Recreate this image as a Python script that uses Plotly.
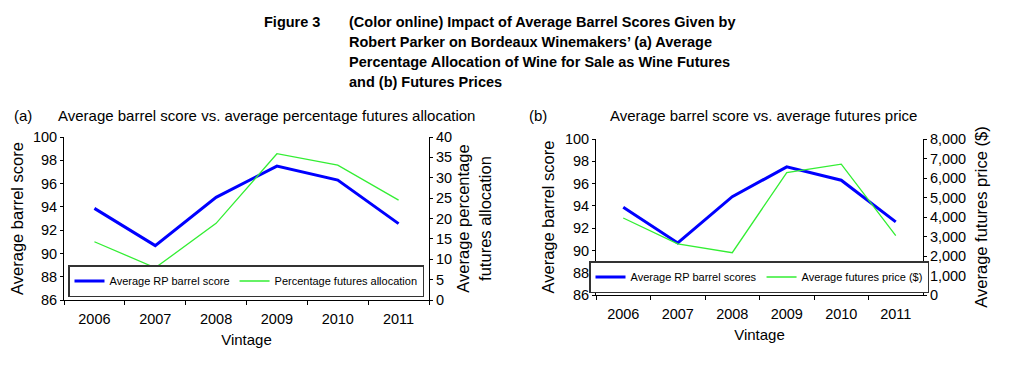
import plotly.graph_objects as go

# ---- data ----
vintages = ["2006", "2007", "2008", "2009", "2010", "2011"]
rp_barrel_score = [93.87, 90.67, 94.82, 97.5, 96.3, 92.56]
futures_allocation_pct = [14.3, 7.9, 18.8, 35.9, 33.1, 24.5]
futures_price = [3950, 2620, 2170, 6280, 6710, 3050]

score_ticks = [86, 88, 90, 92, 94, 96, 98, 100]
alloc_ticks = [0, 5, 10, 15, 20, 25, 30, 35, 40]
price_ticks = [0, 1000, 2000, 3000, 4000, 5000, 6000, 7000, 8000]

# the page body has an 8px default margin, so the figure is drawn 8px in
OFF = 8
W, H = 1021 - OFF, 372 - OFF
FONT = "Liberation Sans, Arial, sans-serif"
NARROW = "Liberation Sans Narrow, Arial Narrow, Liberation Sans, sans-serif"
BLUE = "#0000ff"
GREEN = "#33ee33"

def px_x(x):
    return (x - OFF) / W

def px_y(y):
    return 1 - (y - OFF) / H

fig = go.Figure()

# Panel (a)
fig.add_trace(go.Scatter(x=vintages, y=rp_barrel_score, mode="lines",
                         line=dict(color=BLUE, width=3),
                         name="Average RP barrel score", xaxis="x", yaxis="y",
                         legend="legend"))
fig.add_trace(go.Scatter(x=vintages, y=futures_allocation_pct, mode="lines",
                         line=dict(color=GREEN, width=1.3),
                         name="Percentage futures allocation", xaxis="x", yaxis="y2",
                         legend="legend"))
# Panel (b)
fig.add_trace(go.Scatter(x=vintages, y=rp_barrel_score, mode="lines",
                         line=dict(color=BLUE, width=3),
                         name="Average RP barrel scores", xaxis="x2", yaxis="y3",
                         legend="legend2"))
fig.add_trace(go.Scatter(x=vintages, y=futures_price, mode="lines",
                         line=dict(color=GREEN, width=1.3),
                         name="Average futures price ($)", xaxis="x2", yaxis="y4",
                         legend="legend2"))

tickfont = dict(family=FONT, size=14.5, color="black")
ytitlefont = dict(family=FONT, size=16.5, color="black")
xtitlefont = dict(family=FONT, size=15, color="black")

def xaxis_cfg(domain, anchor):
    return dict(domain=domain, anchor=anchor, type="category",
                categoryorder="array", categoryarray=vintages,
                range=[-0.5, len(vintages) - 0.5], automargin=False,
                tickson="boundaries", ticks="outside", ticklen=4, tickcolor="black",
                showline=True, linecolor="black", linewidth=1,
                showgrid=False, zeroline=False, tickfont=tickfont,
                ticklabelstandoff=6,
                title=dict(text="Vintage", font=xtitlefont, standoff=8))

def yaxis_cfg(domain, anchor, rng, ticks, title, side="left", overlaying=None,
              fmt=None, standoff=8):
    d = dict(domain=domain, anchor=anchor, range=rng, tickvals=ticks,
             automargin=False,
             ticks="outside", ticklen=3, tickcolor="black",
             showline=True, linecolor="black", linewidth=1,
             showgrid=False, zeroline=False, tickfont=tickfont, side=side,
             title=dict(text=title, font=ytitlefont, standoff=standoff))
    if overlaying:
        d["overlaying"] = overlaying
    if fmt:
        d["tickformat"] = fmt
    return d

dom_xa = [px_x(64), px_x(429)]
dom_ya = [px_y(300), px_y(137)]
dom_xb = [px_x(596), px_x(923)]
dom_yb = [px_y(295), px_y(139)]

legend_font = dict(family=FONT, size=11, color="black")

fig.update_layout(
    width=W, height=H, autosize=False,
    margin=dict(l=0, r=0, t=0, b=0, autoexpand=False),
    paper_bgcolor="white", plot_bgcolor="white",
    font=dict(family=FONT, color="black"),
    xaxis=xaxis_cfg(dom_xa, "y"),
    yaxis=yaxis_cfg(dom_ya, "x", [86, 100], score_ticks, "Average barrel score",
                    standoff=8),
    yaxis2=yaxis_cfg(dom_ya, "x", [0, 40], alloc_ticks,
                     "Average percentage<br>futures allocation", side="right",
                     overlaying="y", standoff=6),
    xaxis2=xaxis_cfg(dom_xb, "y3"),
    yaxis3=yaxis_cfg(dom_yb, "x2", [86, 100], score_ticks, "Average barrel score",
                     standoff=6),
    yaxis4=yaxis_cfg(dom_yb, "x2", [0, 8000], price_ticks,
                     "Average futures price ($)", side="right", overlaying="y3",
                     fmt=",", standoff=10),
    legend=dict(orientation="h", x=px_x(246), y=px_y(297), xanchor="center",
                yanchor="bottom", bgcolor="white", bordercolor="#333333",
                borderwidth=1.5, font=legend_font, itemwidth=30,
                tracegroupgap=0),
    legend2=dict(orientation="h", x=px_x(759), y=px_y(293), xanchor="center",
                 yanchor="bottom", bgcolor="white", bordercolor="#333333",
                 borderwidth=1.5, font=legend_font, itemwidth=30,
                 tracegroupgap=0),
    showlegend=True,
)

# Caption and panel titles
cap_font = dict(family=NARROW, size=14.5, color="black", weight="bold")
annotations = [
    dict(text="Figure 3", x=px_x(262), y=px_y(21.7)),
    dict(text="(Color online) Impact of Average Barrel Scores Given by", x=px_x(347), y=px_y(21.7)),
    dict(text="Robert Parker on Bordeaux Winemakers\u2019 (a) Average", x=px_x(347), y=px_y(41.7)),
    dict(text="Percentage Allocation of Wine for Sale as Wine Futures", x=px_x(347), y=px_y(61.7)),
    dict(text="and (b) Futures Prices", x=px_x(347), y=px_y(81.7)),
]
for a in annotations:
    fig.add_annotation(xref="paper", yref="paper", xanchor="left", yanchor="middle",
                       showarrow=False, font=cap_font, **a)

ptitle_font = dict(family=FONT, size=15, color="black")
for text, x in [("(a)", 12), ("Average barrel score vs. average percentage futures allocation", 56),
                ("(b)", 527), ("Average barrel score vs. average futures price", 608)]:
    fig.add_annotation(xref="paper", yref="paper", xanchor="left", yanchor="middle",
                       x=px_x(x), y=px_y(115), text=text, showarrow=False,
                       font=ptitle_font)

fig.write_html("out.html")
